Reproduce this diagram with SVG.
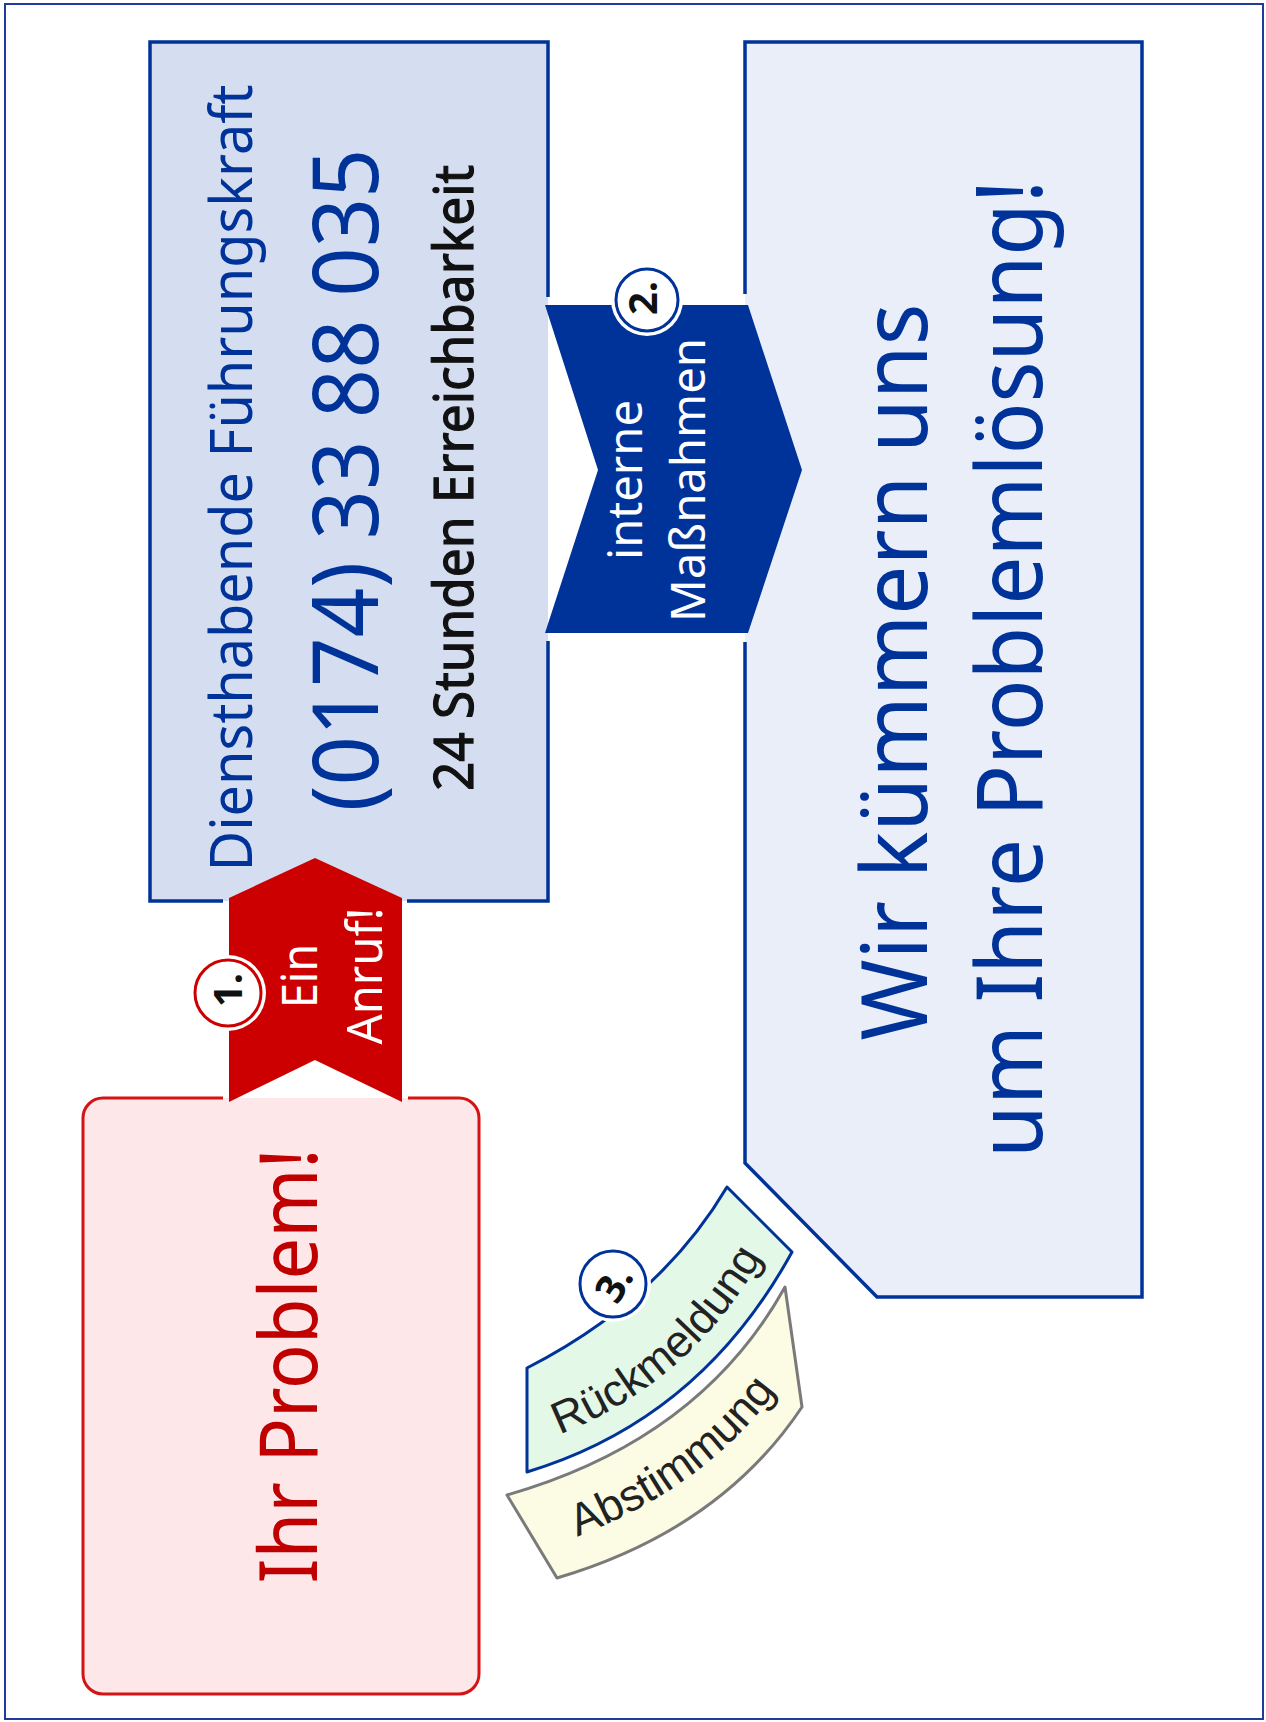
<svg xmlns="http://www.w3.org/2000/svg" width="1266" height="1722" viewBox="0 0 1266 1722">
<defs>
<style>
.bx{font-family:"Noto Sans","Open Sans","DejaVu Sans",sans-serif;}
.blue{fill:#003399;}
.wt{fill:#ffffff;}
.edgeB{fill:none;stroke:#003399;stroke-width:3.5;stroke-linejoin:miter;}
.num{font-family:"Noto Sans","DejaVu Sans",sans-serif;font-weight:bold;font-size:40px;fill:#111;text-anchor:middle;}
.arc{font-family:"Liberation Sans",Arial,sans-serif;font-size:45px;fill:#222;}
</style>
</defs>
<rect x="5" y="4" width="1258" height="1715" fill="#ffffff" stroke="#1f3c9c" stroke-width="2"/>

<g id="dienst">
<rect x="150" y="42" width="398" height="859" fill="#d5def0"/>
<path class="edgeB" d="M548 297 V42 H150 V901 H223 M407 901 H548 V641"/>
<text class="bx blue" font-size="58" text-anchor="middle" textLength="787" lengthAdjust="spacingAndGlyphs" transform="translate(252,478) rotate(-90)">Diensthabende Führungskraft</text>
<text class="bx blue" font-size="91" text-anchor="middle" textLength="663" lengthAdjust="spacingAndGlyphs" transform="translate(378,480) rotate(-90)">(0174) 33 88 035</text>
<text class="bx" font-size="54" fill="#111" stroke="#111" stroke-width="1.2" text-anchor="middle" textLength="626" lengthAdjust="spacingAndGlyphs" transform="translate(473,478) rotate(-90)">24 Stunden Erreichbarkeit</text>
</g>

<g id="loesung">
<path d="M745 42 H1142 V1297 H877 L745 1163 Z" fill="#e9eef8"/>
<path class="edgeB" d="M745 294 V42 H1142 V1297 H877 L745 1163 V642"/>
<text class="bx blue" font-size="91" text-anchor="middle" textLength="737" lengthAdjust="spacingAndGlyphs" transform="translate(927,672) rotate(-90)">Wir kümmern uns</text>
<text class="bx blue" font-size="91" text-anchor="middle" textLength="978" lengthAdjust="spacingAndGlyphs" transform="translate(1042,669) rotate(-90)">um Ihre Problemlösung!</text>
</g>

<g id="problem">
<rect x="83" y="1098" width="396" height="596" rx="20" ry="20" fill="#fde7e9"/>
<path d="M223 1098 H103 A20 20 0 0 0 83 1118 V1674 A20 20 0 0 0 103 1694 H459 A20 20 0 0 0 479 1674 V1118 A20 20 0 0 0 459 1098 H408" fill="none" stroke="#d41414" stroke-width="3"/>
<text class="bx" font-size="80" fill="#c00000" text-anchor="middle" textLength="435" lengthAdjust="spacingAndGlyphs" transform="translate(317,1366) rotate(-90)">Ihr Problem!</text>
</g>

<g id="connectors">
<g id="anruf">
<path d="M315 858 L402 898 L402 1102 L315 1060 L229 1102 L229 898 Z" fill="#cc0000"/>
<text class="bx wt" font-size="50" text-anchor="middle" textLength="64" lengthAdjust="spacingAndGlyphs" transform="translate(317,976) rotate(-90)">Ein</text>
<text class="bx wt" font-size="50" text-anchor="middle" textLength="137" lengthAdjust="spacingAndGlyphs" transform="translate(382,976) rotate(-90)">Anruf!</text>
<circle cx="228" cy="993" r="38" fill="#ffffff"/>
<circle cx="228" cy="993" r="33" fill="#ffffff" stroke="#cc0000" stroke-width="3"/>
<text class="num" transform="translate(242,990) rotate(-90)">1.</text>
</g>
<g id="massnahmen">
<path d="M545 305 L748 305 L802 470 L748 633 L545 633 L598 470 Z" fill="#003399"/>
<text class="bx wt" font-size="48" text-anchor="middle" textLength="160" lengthAdjust="spacingAndGlyphs" transform="translate(642,480) rotate(-90)">interne</text>
<text class="bx wt" font-size="48" text-anchor="middle" textLength="284" lengthAdjust="spacingAndGlyphs" transform="translate(705,480) rotate(-90)">Maßnahmen</text>
<circle cx="647" cy="300" r="36" fill="#ffffff"/>
<circle cx="647" cy="300" r="31" fill="#ffffff" stroke="#003399" stroke-width="3"/>
<text class="num" transform="translate(657,298) rotate(-90)">2.</text>
</g>
<g id="abstimmung">
<path d="M507 1495 Q700 1440 785 1287 L802 1407 Q720 1530 557 1578 Z" fill="#fcfbe4" stroke="#7a7a7a" stroke-width="3" stroke-linejoin="round"/>
<path id="pA" d="M545 1548 Q717 1492 795 1362" fill="none"/>
<text class="arc"><textPath href="#pA" startOffset="50%" text-anchor="middle">Abstimmung</textPath></text>
</g>
<g id="rueckmeldung">
<path d="M527 1368 Q660 1300 727 1187 L792 1252 Q700 1420 527 1472 Z" fill="#e3f8e7" stroke="#003399" stroke-width="3" stroke-linejoin="round"/>
<path id="pR" d="M522 1447 Q688 1399 772 1240" fill="none"/>
<text class="arc"><textPath href="#pR" startOffset="53%" text-anchor="middle">Rückmeldung</textPath></text>
<circle cx="613" cy="1284" r="38" fill="#ffffff"/>
<circle cx="613" cy="1284" r="33" fill="#ffffff" stroke="#003399" stroke-width="3"/>
<text class="num" transform="translate(626,1291) rotate(-60)">3.</text>
</g>
</g>
</svg>
